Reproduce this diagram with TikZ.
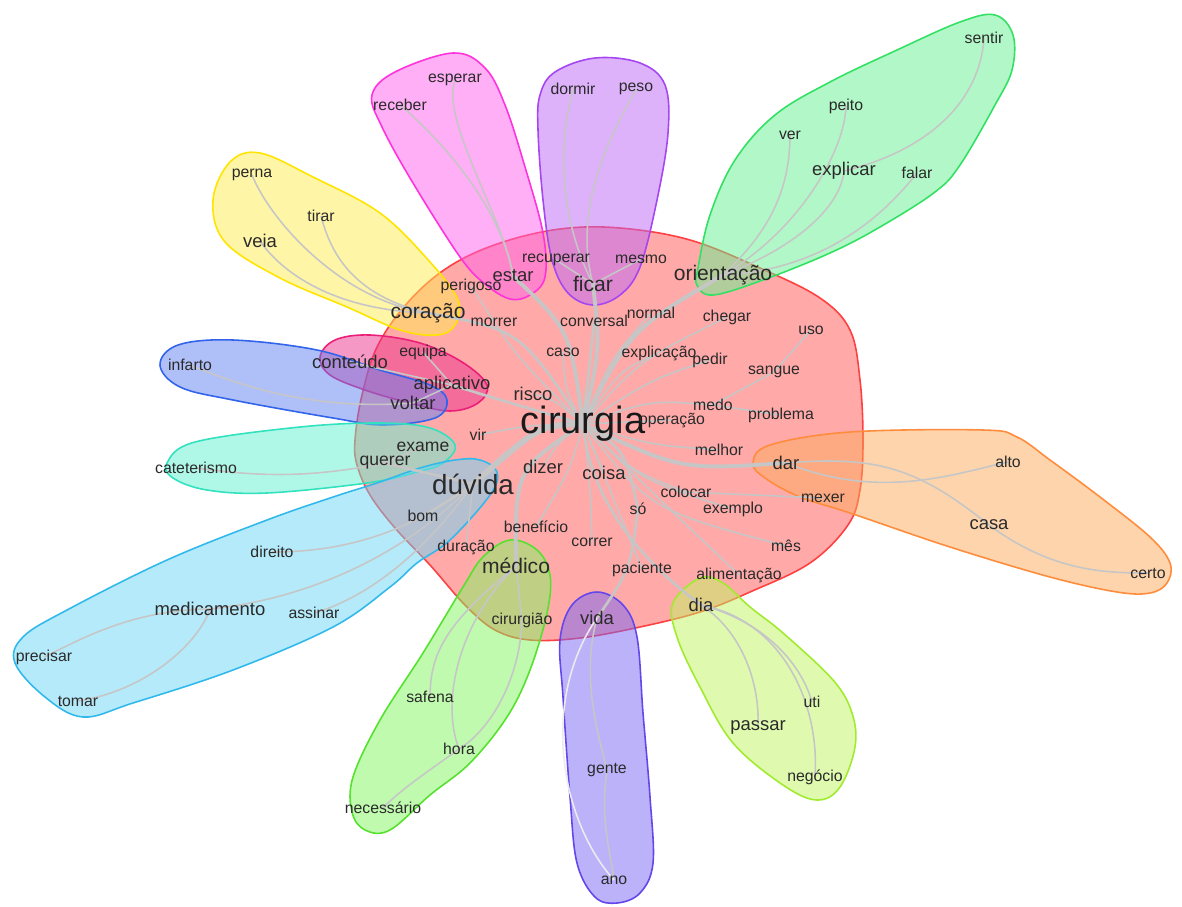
\documentclass[tikz,border=0pt]{standalone}
\usepackage{fontspec}
\setmainfont{Liberation Sans}
\usetikzlibrary{backgrounds}
\pgfdeclarelayer{blobs}
\pgfdeclarelayer{edges}
\pgfsetlayers{blobs,edges,main}
\definecolor{txtc}{HTML}{2A2A2A}
\definecolor{edgec}{HTML}{C6C6C6}
\tikzset{
  wd/.style={text=txtc, inner sep=0pt, font=\fontsize{9}{9}\selectfont},
  wm/.style={text=txtc, inner sep=0pt, font=\fontsize{10.5}{10.5}\selectfont},
  wms/.style={text=txtc, inner sep=0pt, font=\fontsize{10}{10}\selectfont},
  wl/.style={text=txtc, inner sep=0pt, font=\fontsize{12}{12}\selectfont},
  wxl/.style={text=txtc, inner sep=0pt, font=\fontsize{15.8}{15.8}\selectfont},
  wxxl/.style={text=black!90, inner sep=0pt, font=\fontsize{21.6}{21.6}\selectfont},
  ea/.style={draw=edgec, line width=0.9pt},
  eb/.style={draw=edgec, line width=1.5pt},
  ec/.style={draw=edgec, line width=2.2pt},
  ed/.style={draw=edgec, line width=3.4pt},
  blob/.style={line width=0.9pt, fill opacity=0.5},
}
\begin{document}
\begin{tikzpicture}[x=0.02cm,y=-0.02cm]
\useasboundingbox (0,0) rectangle (1182,906);
% ---------- words ----------
\node[wxxl] (cirurgia) at (583,424) {cirurgia};
\node[wxl] (duvida) at (473,484) {dúvida};
\node[wm] (estar) at (513,276) {estar};
\node[wl] (ficar) at (593,284) {ficar};
\node[wl] (orientacao) at (723,275) {orientação};
\node[wd] (recuperar) at (556,260) {recuperar};
\node[wd] (mesmo) at (641,259) {mesmo};
\node[wd] (perigoso) at (471,286) {perigoso};
\node[wl] (coracao) at (428,313) {coração};
\node[wd] (morrer) at (494,322) {morrer};
\node[wd] (conversal) at (594,321) {conversal};
\node[wd] (normal) at (651,313) {normal};
\node[wd] (chegar) at (727,317) {chegar};
\node[wd] (uso) at (811,330) {uso};
\node[wd] (caso) at (563,352) {caso};
\node[wd] (explicacao) at (659,353) {explicação};
\node[wd] (pedir) at (710,360) {pedir};
\node[wd] (sangue) at (774,372) {sangue};
\node[wd] (medo) at (713,405) {medo};
\node[wd] (problema) at (781,415) {problema};
\node[wd] (operacao) at (672,420) {operação};
\node[wd] (melhor) at (719,450) {melhor};
\node[wm] (dar) at (786,463) {dar};
\node[wd] (alto) at (1008,462) {alto};
\node[wd] (mexer) at (823,498) {mexer};
\node[wm] (casa) at (989,525) {casa};
\node[wd] (certo) at (1148,573) {certo};
\node[wd] (colocar) at (686,492) {colocar};
\node[wd] (exemplo) at (733,509) {exemplo};
\node[wd] (mes) at (786,546) {mês};
\node[wd] (alimentacao) at (739,575) {alimentação};
\node[wm] (dia) at (701,605) {dia};
\node[wd] (uti) at (812,702) {uti};
\node[wm] (passar) at (758,727) {passar};
\node[wd] (negocio) at (815,777) {negócio};
\node[wd] (paciente) at (642,569) {paciente};
\node[wd] (so) at (638,509) {só};
\node[wm] (coisa) at (604,473) {coisa};
\node[wm] (dizer) at (543,467) {dizer};
\node[wd] (vir) at (478,435) {vir};
\node[wms] (exame) at (423,447) {exame};
\node[wms] (querer) at (385,463) {querer};
\node[wd] (bom) at (423,516) {bom};
\node[wd] (beneficio) at (536,527) {benefício};
\node[wd] (correr) at (592,542) {correr};
\node[wd] (duracao) at (466,547) {duração};
\node[wl] (medico) at (516,566) {médico};
\node[wd] (cirurgiao) at (522,620) {cirurgião};
\node[wm] (vida) at (597,618) {vida};
\node[wd] (safena) at (430,697) {safena};
\node[wd] (hora) at (459,749) {hora};
\node[wd] (necessario) at (383,808) {necessário};
\node[wd] (gente) at (607,770) {gente};
\node[wd] (ano) at (614,880) {ano};
\node[wd] (direito) at (272,552) {direito};
\node[wm] (medicamento) at (210,609) {medicamento};
\node[wd] (assinar) at (314,613) {assinar};
\node[wd] (precisar) at (44,657) {precisar};
\node[wd] (tomar) at (78,701) {tomar};
\node[wd] (infarto) at (190,365) {infarto};
\node[wd] (cateterismo) at (196,468) {cateterismo};
\node[wm] (conteudo) at (350,362) {conteúdo};
\node[wd] (equipa) at (423,352) {equipa};
\node[wm] (aplicativo) at (452,385) {aplicativo};
\node[wm] (voltar) at (413,403) {voltar};
\node[wm] (risco) at (533,394) {risco};
\node[wd] (perna) at (252,175) {perna};
\node[wd] (tirar) at (321,216) {tirar};
\node[wm] (veia) at (260,241) {veia};
\node[wd] (receber) at (400,105) {receber};
\node[wd] (esperar) at (455,80) {esperar};
\node[wd] (dormir) at (573,89) {dormir};
\node[wd] (peso) at (636,89) {peso};
\node[wd] (sentir) at (984,38) {sentir};
\node[wd] (peito) at (846,106) {peito};
\node[wd] (ver) at (790,135) {ver};
\node[wm] (explicar) at (844,171) {explicar};
\node[wd] (falar) at (917,173) {falar};
% ---------- halos ----------
\begin{pgfonlayer}{blobs}
\filldraw[blob, draw=red!75, fill=red!67] plot[smooth cycle, tension=0.6] coordinates {(355,440) (362,395) (378,345) (410,300) (450,266) (500,243) (560,229) (620,228) (690,240) (760,268) (820,298) (850,330) (860,380) (863,440) (860,490) (848,525) (810,563) (750,592) (700,612) (640,627) (580,638) (530,640) (495,630) (465,605) (430,565) (395,528) (370,495) (357,465)};
\filldraw[blob, draw={rgb,255:red,255;green,228;blue,0}, fill={rgb,255:red,255;green,235;blue,80}] plot[smooth cycle, tension=0.6] coordinates {(213,200) (230,162) (260,153) (313,177) (380,213) (430,262) (458,300) (455,325) (437,335) (400,330) (347,307) (280,278) (225,242)};
\filldraw[blob, draw={rgb,255:red,255;green,50;blue,220}, fill={rgb,255:red,255;green,95;blue,235}] plot[smooth cycle, tension=0.6] coordinates {(372,95) (395,72) (453,53) (485,68) (505,105) (525,167) (543,233) (545,277) (530,295) (510,299) (485,284) (460,257) (413,183) (382,127)};
\filldraw[blob, draw={rgb,255:red,165;green,70;blue,240}, fill={rgb,255:red,187;green,102;blue,245}] plot[smooth cycle, tension=0.6] coordinates {(540,95) (555,72) (595,58) (640,63) (665,85) (668,133) (657,200) (640,267) (620,295) (593,305) (568,293) (552,260) (543,200) (538,130)};
\filldraw[blob, draw={rgb,255:red,50;green,225;blue,100}, fill={rgb,255:red,102;green,240;blue,144}] plot[smooth cycle, tension=0.6] coordinates {(698,268) (710,215) (735,160) (775,115) (830,82) (897,50) (960,22) (995,15) (1013,35) (1012,70) (995,105) (960,165) (935,192) (880,227) (830,253) (763,280) (713,295) (697,285)};
\filldraw[blob, draw={rgb,255:red,235;green,30;blue,120}, fill={rgb,255:red,235;green,50;blue,140}] plot[smooth cycle, tension=0.6] coordinates {(320,357) (335,340) (370,335) (420,343) (462,362) (487,385) (478,403) (450,411) (410,403) (365,390) (330,375)};
\filldraw[blob, draw={rgb,255:red,50;green,100;blue,235}, fill={rgb,255:red,96;green,128;blue,240}] plot[smooth cycle, tension=0.6] coordinates {(160,365) (178,345) (233,340) (317,350) (380,370) (430,385) (447,400) (435,418) (383,425) (333,418) (233,400) (180,387)};
\filldraw[blob, draw={rgb,255:red,50;green,225;blue,190}, fill={rgb,255:red,96;green,240;blue,208}] plot[smooth cycle, tension=0.6] coordinates {(167,463) (195,442) (300,427) (380,423) (430,428) (455,445) (443,463) (417,472) (367,483) (267,493) (207,490) (173,478)};
\filldraw[blob, draw={rgb,255:red,50;green,185;blue,235}, fill={rgb,255:red,106;green,213;blue,245}] plot[smooth cycle, tension=0.6] coordinates {(455,460) (480,460) (497,472) (490,495) (450,540) (417,563) (390,587) (333,627) (233,670) (133,703) (83,717) (45,697) (15,663) (23,637) (67,610) (167,560) (267,520) (333,497) (377,483) (420,468)};
\filldraw[blob, draw={rgb,255:red,255;green,140;blue,60}, fill={rgb,255:red,251;green,170;blue,90}] plot[smooth cycle, tension=0.6] coordinates {(753,463) (770,445) (850,432) (983,430) (1017,437) (1050,460) (1100,497) (1150,537) (1170,563) (1167,583) (1150,593) (1117,592) (1050,577) (950,547) (850,513) (800,497) (765,478)};
\filldraw[blob, draw={rgb,255:red,160;green,235;blue,45}, fill={rgb,255:red,192;green,245;blue,96}] plot[smooth cycle, tension=0.6] coordinates {(700,578) (723,583) (750,607) (783,633) (833,680) (852,713) (855,747) (840,787) (817,800) (783,785) (733,743) (700,687) (677,637) (673,603)};
\filldraw[blob, draw={rgb,255:red,85;green,225;blue,45}, fill={rgb,255:red,128;green,245;blue,96}] plot[smooth cycle, tension=0.6] coordinates {(510,540) (537,550) (550,575) (547,613) (530,670) (507,717) (470,763) (430,795) (390,830) (365,830) (352,812) (353,777) (380,720) (423,653) (463,587) (483,557)};
\filldraw[blob, draw={rgb,255:red,100;green,70;blue,235}, fill={rgb,255:red,119;green,102;blue,245}] plot[smooth cycle, tension=0.6] coordinates {(597,592) (623,605) (637,637) (643,713) (650,797) (653,863) (640,893) (617,903) (595,897) (577,863) (570,797) (563,697) (560,640) (572,605)};
\end{pgfonlayer}
% ---------- edges ----------
\begin{pgfonlayer}{edges}
\draw[ed] (cirurgia.center) .. controls (540,425) .. (duvida.center);
\draw[ec] (cirurgia.center) .. controls (600,350) .. (ficar.center);
\draw[ec] (cirurgia.center) .. controls (570,330) .. (estar.center);
\draw[ec] (cirurgia.center) .. controls (630,330) .. (orientacao.center);
\draw[eb] (cirurgia.center) .. controls (520,330) .. (coracao.center);
\draw[eb] (cirurgia.center) .. controls (590,360) .. (conversal.center);
\draw[ec] (cirurgia.center) .. controls (680,470) .. (dar.center);
\draw[ec] (cirurgia.center) .. controls (515,470) .. (medico.center);
\draw[eb] (cirurgia.center) .. controls (625,450) .. (so.center);
\draw[eb] (so.center) .. controls (630,570) .. (vida.center);
\draw[eb] (cirurgia.center) .. controls (590,500) and (640,560) .. (dia.center);
\draw[ea] (cirurgia.center) .. controls (565,390) .. (caso.center);
\draw[ea] (cirurgia.center) .. controls (555,400) .. (risco.center);
\draw[ea] (cirurgia.center) .. controls (530,425) .. (vir.center);
\draw[ea] (cirurgia.center) .. controls (560,440) .. (dizer.center);
\draw[ea] (cirurgia.center) -- (coisa.center);
\draw[ea] (cirurgia.center) .. controls (620,370) .. (explicacao.center);
\draw[ea] (cirurgia.center) .. controls (650,380) .. (pedir.center);
\draw[ea] (cirurgia.center) .. controls (610,360) .. (normal.center);
\draw[ea] (cirurgia.center) .. controls (640,360) .. (chegar.center);
\draw[ea] (cirurgia.center) .. controls (650,400) .. (medo.center);
\draw[ea] (cirurgia.center) -- (operacao.center);
\draw[ea] (cirurgia.center) .. controls (650,445) .. (melhor.center);
\draw[ea] (cirurgia.center) .. controls (630,470) .. (colocar.center);
\draw[ea] (cirurgia.center) .. controls (640,480) .. (exemplo.center);
\draw[ea] (cirurgia.center) .. controls (650,510) .. (mes.center);
\draw[ea] (cirurgia.center) .. controls (590,480) .. (correr.center);
\draw[ea] (cirurgia.center) .. controls (570,470) .. (beneficio.center);
\draw[ea] (cirurgia.center) .. controls (610,490) .. (paciente.center);
\draw[ea] (cirurgia.center) .. controls (660,500) .. (alimentacao.center);
\draw[ea] (cirurgia.center) .. controls (520,360) .. (morrer.center);
\draw[ea] (morrer.center) -- (perigoso.center);
\draw[ea] (ficar.center) -- (recuperar.center);
\draw[ea] (ficar.center) -- (mesmo.center);
\draw[ea] (medo.center) -- (sangue.center);
\draw[ea] (sangue.center) -- (uso.center);
\draw[ea] (medo.center) -- (problema.center);
\draw[ea] (colocar.center) -- (mexer.center);
\draw[ea] (dar.center) .. controls (880,455) and (920,470) .. (casa.center);
\draw[ea] (dar.center) .. controls (880,500) and (950,475) .. (alto.center);
\draw[ea] (casa.center) .. controls (1050,570) and (1100,573) .. (certo.center);
\draw[ea] (dia.center) .. controls (760,620) and (800,660) .. (uti.center);
\draw[ea] (dia.center) .. controls (740,630) and (760,680) .. (passar.center);
\draw[ea] (dia.center) .. controls (780,620) and (820,700) .. (negocio.center);
\draw[ea] (medico.center) -- (cirurgiao.center);
\draw[ea] (medico.center) .. controls (450,620) and (430,650) .. (safena.center);
\draw[ea] (medico.center) .. controls (460,620) and (440,700) .. (hora.center);
\draw[ea] (cirurgiao.center) .. controls (520,680) and (490,730) .. (hora.center);
\draw[ea] (hora.center) .. controls (430,770) and (400,790) .. (necessario.center);
\draw[ea] (vida.center) .. controls (580,680) and (600,740) .. (gente.center);
\draw[ea] (gente.center) .. controls (600,820) and (610,850) .. (ano.center);
\draw[ea, draw=black!8] (vida.center) .. controls (540,700) and (560,820) .. (ano.center);
\draw[eb] (duvida.center) -- (querer.center);
\draw[ea] (querer.center) -- (exame.center);
\draw[ea] (querer.center) .. controls (300,480) and (250,475) .. (cateterismo.center);
\draw[ea] (duvida.center) -- (bom.center);
\draw[ea] (duvida.center) .. controls (400,540) and (330,552) .. (direito.center);
\draw[ea] (duvida.center) .. controls (400,560) and (300,600) .. (medicamento.center);
\draw[ea] (duvida.center) .. controls (420,560) and (360,600) .. (assinar.center);
\draw[ea] (duvida.center) -- (duracao.center);
\draw[ea] (medicamento.center) .. controls (130,610) and (80,640) .. (precisar.center);
\draw[ea] (medicamento.center) .. controls (200,640) and (150,690) .. (tomar.center);
\draw[eb] (cirurgia.center) .. controls (500,400) .. (aplicativo.center);
\draw[ea] (aplicativo.center) -- (conteudo.center);
\draw[ea] (aplicativo.center) -- (equipa.center);
\draw[ea] (aplicativo.center) -- (voltar.center);
\draw[ea] (voltar.center) .. controls (320,410) and (250,390) .. (infarto.center);
\draw[ea] (coracao.center) .. controls (340,300) and (270,220) .. (perna.center);
\draw[ea] (coracao.center) .. controls (350,295) and (330,250) .. (tirar.center);
\draw[ea] (coracao.center) .. controls (330,310) and (280,270) .. (veia.center);
\draw[ea] (estar.center) .. controls (500,200) and (430,130) .. (receber.center);
\draw[ea] (estar.center) .. controls (505,220) and (440,120) .. (esperar.center);
\draw[ea] (ficar.center) .. controls (550,200) and (565,120) .. (dormir.center);
\draw[ea] (ficar.center) .. controls (570,200) and (620,120) .. (peso.center);
\draw[ea] (orientacao.center) .. controls (760,240) and (790,200) .. (ver.center);
\draw[ea] (orientacao.center) .. controls (800,230) and (845,150) .. (peito.center);
\draw[ea] (orientacao.center) .. controls (790,250) and (840,210) .. (explicar.center);
\draw[ea] (explicar.center) .. controls (930,150) and (980,100) .. (sentir.center);
\draw[ea] (orientacao.center) .. controls (820,270) and (880,220) .. (falar.center);
\end{pgfonlayer}
\end{tikzpicture}
\end{document}
